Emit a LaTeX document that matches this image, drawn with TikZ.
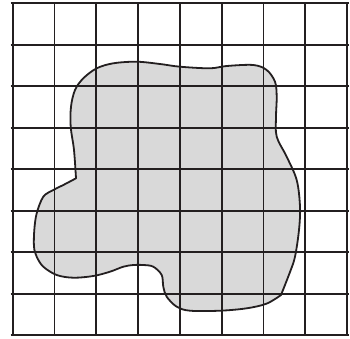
\documentclass[tikz,border=0pt]{standalone}
\definecolor{ink}{HTML}{231F20}
\definecolor{blobfill}{HTML}{D9D9D9}
\tikzset{gridline/.style={ink,line width=1.8pt},
  blobline/.style={ink,line width=1.8pt,line join=round}}
\begin{document}
\begin{tikzpicture}[x=1pt,y=-1pt]
\useasboundingbox (0,0) rectangle (350,338);
\def\blobpath{plot[smooth,tension=0.55] coordinates {(76,178.3) (74,150) (70.7,126.7) (71,106.7) (75,90) (83.3,78.3) (96.7,68.3) (113.3,63.3) (136.7,61.7) (160,64) (180,66.7) (210,68.3) (226.7,66) (253.3,65) (266.7,70) (275,81.7) (276.7,96.7) (276,116.7) (276.7,136.7) (286.7,156.7) (296.7,180) (300,206.7) (299,230) (295,256.7) (290,272) (281,295)}
 -- plot[smooth,tension=0.55] coordinates {(281,295) (266.7,303.6) (246.7,308.3) (220,310.7) (190,310.7) (176.7,306.7) (166.7,296.7) (163.3,286.7) (161.7,275) (153.3,266.7) (143.3,265) (133.3,265) (123.3,266.7) (110,271.7) (93.3,276) (73.3,277.7) (56.7,275) (43.3,266.7) (36.7,256.7) (34,246.7) (34.3,230) (36.7,213.3) (43.3,196.7) (53.3,190) (63.3,185) (76,178.3)} -- cycle}
\fill[blobfill] \blobpath;
\foreach \i in {0,...,8} {
  \draw[gridline] ({12.7+\i*41.8},2) -- ({12.7+\i*41.8},336);
  \draw[gridline] (10.5,{3.3+\i*41.5}) -- (349,{3.3+\i*41.5});
}
\draw[blobline] \blobpath;
\end{tikzpicture}
\end{document}
